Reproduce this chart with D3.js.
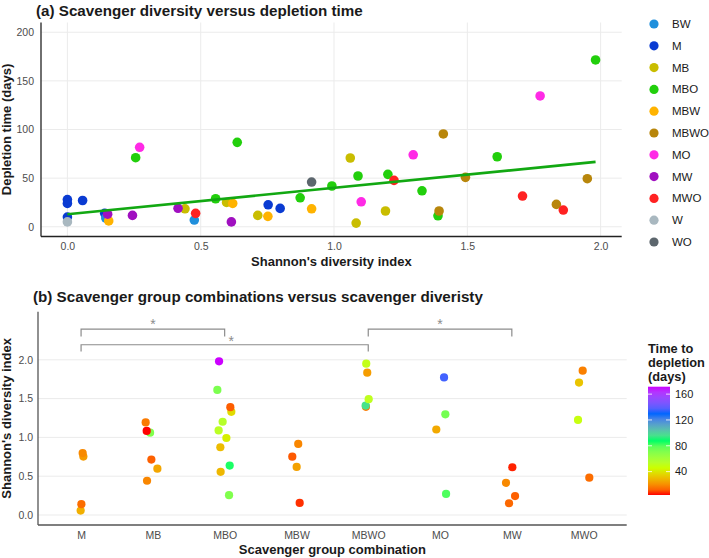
<!DOCTYPE html>
<html><head><meta charset="utf-8">
<script src="https://cdn.jsdelivr.net/npm/d3@7"></script>
<style>
html,body{margin:0;padding:0;background:#fff;}
text{font-family:"Liberation Sans",Arial,Helvetica,sans-serif;}
</style></head>
<body><svg id="c" width="709" height="558"></svg>
<script>
// ---------- data ----------
const groups = ["BW","M","MB","MBO","MBW","MBWO","MO","MW","MWO","W","WO"];
const groupColors = ["#1f8fdc","#0a3bd2","#c9bd00","#22cf0c","#ffb300","#b8860b","#ff2ae6","#a010c0","#ff2222","#a9b8c0","#5c666d"];
const combos = ["M","MB","MBO","MBW","MBWO","MO","MW","MWO"];

const obsGroup = ["M","M","M","M","M","M","M","BW","BW","W","WO",
  "MB","MB","MB","MB","MB","MB",
  "MBO","MBO","MBO","MBO","MBO","MBO","MBO","MBO","MBO","MBO","MBO",
  "MBW","MBW","MBW","MBW",
  "MBWO","MBWO","MBWO","MBWO","MBWO",
  "MO","MO","MO","MO",
  "MW","MW","MW","MW",
  "MWO","MWO","MWO","MWO"];
const obsDiversity = [0,0,0,0.057,0.14,0.753,0.798,0.144,0.476,0,0.916,
  0.441,0.597,0.714,1.061,1.083,1.193,
  0.256,0.556,0.637,0.873,0.992,1.09,1.202,1.33,1.39,1.612,1.981,
  0.155,0.62,0.752,0.916,
  1.394,1.41,1.493,1.834,1.95,
  0.271,1.102,1.297,1.773,
  0.151,0.244,0.415,0.615,
  0.481,1.225,1.707,1.86];
const obsTime = [28,24,10,27,13.8,22.6,18.9,9,6.9,5,46,
  18.5,25,11.7,70.7,3.8,16.2,
  71,28.8,86.8,29.8,41.9,52.2,53.9,37,11.3,72,171.5,
  6,24,10.7,18.5,
  16.2,95.4,50.8,23,49.4,
  81.7,25.7,74,134.5,
  13,11.7,19,5,
  13.8,47.7,31.6,17.2];
// horizontal jitter in panel (b), in category units (null = not shown in panel b)
const obsJitter = [null,null,null,-0.006,0.004,0.032,0.022,null,null,null,null,
  -0.081,0.063,-0.021,-0.039,-0.086,-0.1,
  0.061,-0.056,0.07,-0.06,0.024,-0.084,-0.028,0.093,0.079,-0.102,-0.078,
  0.045,0.003,-0.058,0.025,
  -0.032,-0.036,0.006,-0.014,-0.028,
  0.084,-0.052,0.074,0.056,
  -0.039,0.045,-0.081,0.007,
  0.079,-0.078,-0.064,-0.013];

// linear fit (panel a)
const fitIntercept = 12.8, fitSlope = 27.2;

// x / y ticks
const xTicksA = [0,0.5,1.0,1.5,2.0];
const yTicksA = [0,50,100,150,200];
const yTicksB = [0,0.5,1.0,1.5,2.0];
const colorbarTicks = [40,80,120,160];
const colorbarColors = ["#FF0000","#CCFF00","#00FF66","#0066FF","#CC00FF"];

// significance brackets: [from, to, barY, tipY, starX(category), starY]
const bracketFrom = ["M","M","MBWO"];
const bracketTo = ["MBO","MBWO","MW"];
const bracketY = [2.396,2.194,2.396];
const bracketTip = [2.30,2.107,2.30];
const bracketStarX = [2.0,3.09,6.0];
const bracketStarY = [2.494,2.284,2.494];

// ---------- drawing ----------
const svg = d3.select("#c");
const obs = obsGroup.map((g,i)=>({g, d:obsDiversity[i], t:obsTime[i], j:obsJitter[i]}));
const gColor = d3.scaleOrdinal().domain(groups).range(groupColors);
const gridCol = "#ebebeb", tickCol = "#4d4d4d";

// ===== Panel A =====
const A = {l:41, r:621.7, t:22.5, b:236.5};
const xA = d3.scaleLinear().domain([-0.099,2.079]).range([A.l,A.r]);
const yA = d3.scaleLinear().domain([-10,210]).range([A.b,A.t]);

const ga = svg.append("g");
ga.append("g").selectAll("line").data(yTicksA).join("line")
  .attr("x1",A.l).attr("x2",A.r).attr("y1",d=>yA(d)).attr("y2",d=>yA(d))
  .attr("stroke",gridCol).attr("stroke-width",1);
ga.append("g").selectAll("line").data(xTicksA).join("line")
  .attr("y1",A.t).attr("y2",A.b).attr("x1",d=>xA(d)).attr("x2",d=>xA(d))
  .attr("stroke",gridCol).attr("stroke-width",1);

const axAx = ga.append("g").attr("transform",`translate(0,${A.b})`)
  .call(d3.axisBottom(xA).tickValues(xTicksA).tickFormat(d3.format(".1f")).tickSize(0).tickPadding(6));
const axAy = ga.append("g").attr("transform",`translate(${A.l},0)`)
  .call(d3.axisLeft(yA).tickValues(yTicksA).tickSize(0).tickPadding(7));
[axAx,axAy].forEach(a=>{
  a.select(".domain").attr("stroke","#222").attr("stroke-width",1.3);
  a.selectAll("text").attr("fill",tickCol).style("font-size","10.5px").style("font-family","Liberation Sans, Arial, sans-serif");
});
axAx.select(".domain").attr("d",`M${A.l},0H${A.r}`);
axAy.select(".domain").attr("d",`M0,${A.t}V${A.b}`);

ga.append("g").selectAll("circle").data(obs).join("circle")
  .attr("cx",d=>xA(d.d)).attr("cy",d=>yA(d.t)).attr("r",4.8)
  .attr("fill",d=>gColor(d.g));

const fx = d3.extent(obsDiversity);
ga.append("line")
  .attr("x1",xA(fx[0])).attr("y1",yA(fitIntercept+fitSlope*fx[0]))
  .attr("x2",xA(fx[1])).attr("y2",yA(fitIntercept+fitSlope*fx[1]))
  .attr("stroke","#12a812").attr("stroke-width",2.6);

svg.append("text").attr("x",36).attr("y",16).text("(a) Scavenger diversity versus depletion time")
  .style("font-weight","bold").style("font-size","15.2px").attr("fill","#1a1a1a");
svg.append("text").attr("x",(A.l+A.r)/2).attr("y",266).attr("text-anchor","middle")
  .text("Shannon's diversity index").style("font-weight","bold").style("font-size","13px").attr("fill","#1a1a1a");
svg.append("text").attr("transform",`translate(11,${(A.t+A.b)/2}) rotate(-90)`).attr("text-anchor","middle")
  .text("Depletion time (days)").style("font-weight","bold").style("font-size","13px").attr("fill","#1a1a1a");

// legend A
const legA = svg.append("g");
const legY = d3.scalePoint().domain(groups).range([24,242]);
legA.selectAll("circle").data(groups).join("circle")
  .attr("cx",654).attr("cy",d=>legY(d)).attr("r",4.6).attr("fill",d=>gColor(d));
legA.selectAll("text").data(groups).join("text")
  .attr("x",672).attr("y",d=>legY(d)).attr("dy","0.35em").text(d=>d)
  .style("font-size","11.5px").attr("fill","#1a1a1a");

// ===== Panel B =====
const B = {l:38, r:626.7, t:311.7, b:525};
const xB = d3.scaleLinear().domain([0.4,8.6]).range([B.l,B.r]);
const yB = d3.scaleLinear().domain([-0.129,2.62]).range([B.b,B.t]);
const cIdx = c => combos.indexOf(c)+1;
const bObs = obs.filter(d=>d.j!==null);
const tExt = d3.extent(bObs,d=>d.t);
const colorScale = d3.scaleLinear()
  .domain(d3.range(5).map(i=>tExt[0]+(tExt[1]-tExt[0])*i/4))
  .range(colorbarColors).interpolate(d3.interpolateLab);

const gb = svg.append("g");
gb.append("g").selectAll("line").data(yTicksB).join("line")
  .attr("x1",B.l).attr("x2",B.r).attr("y1",d=>yB(d)).attr("y2",d=>yB(d))
  .attr("stroke",gridCol).attr("stroke-width",1);

const axBx = gb.append("g").attr("transform",`translate(0,${B.b})`)
  .call(d3.axisBottom(xB).tickValues(d3.range(1,combos.length+1)).tickFormat(i=>combos[i-1]).tickSize(0).tickPadding(7));
const axBy = gb.append("g").attr("transform",`translate(${B.l},0)`)
  .call(d3.axisLeft(yB).tickValues(yTicksB).tickFormat(d3.format(".1f")).tickSize(0).tickPadding(5));
[axBx,axBy].forEach(a=>{
  a.select(".domain").attr("stroke","#555").attr("stroke-width",1.3);
  a.selectAll("text").attr("fill",tickCol).style("font-size","10.5px").style("font-family","Liberation Sans, Arial, sans-serif");
});
axBx.select(".domain").attr("d",`M${B.l},0H${B.r}`);
axBy.select(".domain").attr("d",`M0,${B.t}V${B.b}`);

gb.append("g").selectAll("circle").data(bObs).join("circle")
  .attr("cx",d=>xB(cIdx(d.g)+d.j)).attr("cy",d=>yB(d.d)).attr("r",4.1)
  .attr("fill",d=>colorScale(d.t));

// brackets
const br = gb.append("g");
bracketFrom.forEach((f,i)=>{
  const x1 = xB(cIdx(f)), x2 = xB(cIdx(bracketTo[i]));
  br.append("path")
    .attr("d",`M${x1},${yB(bracketTip[i])}V${yB(bracketY[i])}H${x2}V${yB(bracketTip[i])}`)
    .attr("fill","none").attr("stroke","#8c8c8c").attr("stroke-width",1.2);
  br.append("text").attr("x",xB(bracketStarX[i])).attr("y",yB(bracketStarY[i])+8)
    .attr("text-anchor","middle").text("*").style("font-size","14px").attr("fill","#8c8c8c");
});

svg.append("text").attr("x",33).attr("y",302).text("(b) Scavenger group combinations versus scavenger diveristy")
  .style("font-weight","bold").style("font-size","15.2px").attr("fill","#1a1a1a");
svg.append("text").attr("x",(B.l+B.r)/2).attr("y",554).attr("text-anchor","middle")
  .text("Scavenger group combination").style("font-weight","bold").style("font-size","13px").attr("fill","#1a1a1a");
svg.append("text").attr("transform",`translate(11,${(B.t+B.b)/2}) rotate(-90)`).attr("text-anchor","middle")
  .text("Shannon's diversity index").style("font-weight","bold").style("font-size","13px").attr("fill","#1a1a1a");

// colorbar legend
const cb = {x:648, w:22, top:386.7, bot:495};
const cbY = d3.scaleLinear().domain([tExt[0],tExt[1]]).range([cb.bot,cb.top]);
const defs = svg.append("defs");
const lg = defs.append("linearGradient").attr("id","cbg").attr("x1",0).attr("y1",1).attr("x2",0).attr("y2",0);
d3.range(0,1.0001,0.05).forEach(f=>{
  lg.append("stop").attr("offset",f).attr("stop-color",colorScale(tExt[0]+f*(tExt[1]-tExt[0])));
});
svg.append("rect").attr("x",cb.x).attr("y",cb.top).attr("width",cb.w).attr("height",cb.bot-cb.top).attr("fill","url(#cbg)");
const cbt = svg.append("g");
colorbarTicks.forEach(t=>{
  cbt.append("line").attr("x1",cb.x).attr("x2",cb.x+4).attr("y1",cbY(t)).attr("y2",cbY(t)).attr("stroke","#fff").attr("stroke-width",1).attr("opacity",0.8);
  cbt.append("line").attr("x1",cb.x+cb.w-4).attr("x2",cb.x+cb.w).attr("y1",cbY(t)).attr("y2",cbY(t)).attr("stroke","#fff").attr("stroke-width",1).attr("opacity",0.8);
  cbt.append("text").attr("x",cb.x+cb.w+5).attr("y",cbY(t)).attr("dy","0.35em").text(t)
    .style("font-size","11px").attr("fill","#1a1a1a");
});
const cbTitle = ["Time to","depletion","(days)"];
svg.append("g").selectAll("text").data(cbTitle).join("text")
  .attr("x",cb.x).attr("y",(d,i)=>353+i*13.8).text(d=>d)
  .style("font-weight","bold").style("font-size","12.8px").attr("fill","#1a1a1a");
</script></body></html>
